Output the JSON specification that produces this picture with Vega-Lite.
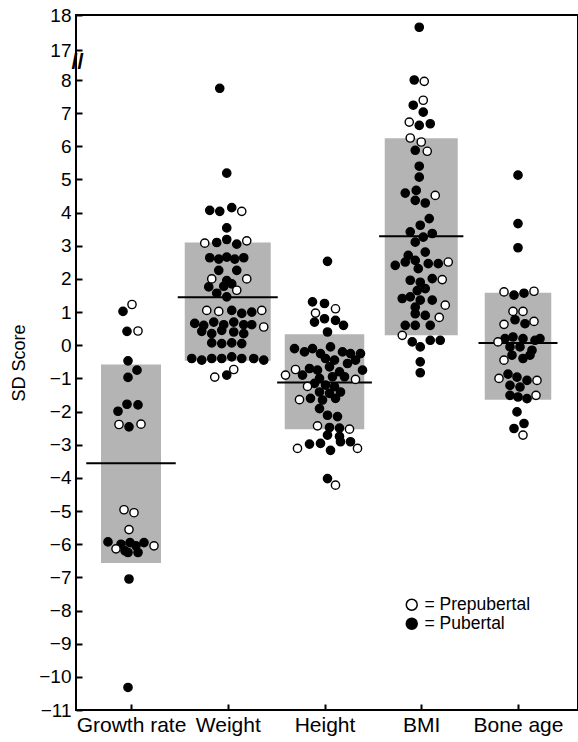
{
  "$schema": "https://vega.github.io/schema/vega-lite/v6.json",
  "width": 502,
  "height": 695,
  "autosize": {"type": "none"},
  "padding": {"top": 15, "left": 76, "right": 0, "bottom": 32},
  "config": {
    "view": {"stroke": "black", "strokeWidth": 2},
    "font": "Liberation Sans",
    "axis": {"grid": false, "labelColor": "black", "titleColor": "black", "domainColor": "black", "labelFont": "Liberation Sans", "titleFont": "Liberation Sans", "ticks": true, "tickOpacity": 1, "zindex": 1}
  },
  "datasets": {
    "boxes": [
      {"cat": "Growth rate", "value": -0.58, "value2": -6.57},
      {"cat": "Weight", "value": 3.1, "value2": -0.47},
      {"cat": "Height", "value": 0.33, "value2": -2.53},
      {"cat": "BMI", "value": 6.24, "value2": 0.3},
      {"cat": "Bone age", "value": 1.58, "value2": -1.64}
    ],
    "means": [
      {"cat": "Growth rate", "value": -3.56},
      {"cat": "Weight", "value": 1.45},
      {"cat": "Height", "value": -1.12},
      {"cat": "BMI", "value": 3.29},
      {"cat": "Bone age", "value": 0.07}
    ],
    "points": [
      {"cat": "Growth rate", "value": 1.02, "status": "Pubertal", "jitter": -0.8},
      {"cat": "Growth rate", "value": 1.23, "status": "Prepubertal", "jitter": 0.1},
      {"cat": "Growth rate", "value": 0.42, "status": "Pubertal", "jitter": -0.4},
      {"cat": "Growth rate", "value": 0.43, "status": "Prepubertal", "jitter": 0.7},
      {"cat": "Growth rate", "value": -0.47, "status": "Pubertal", "jitter": -0.3},
      {"cat": "Growth rate", "value": -0.75, "status": "Pubertal", "jitter": 0.6},
      {"cat": "Growth rate", "value": -0.97, "status": "Pubertal", "jitter": -0.3},
      {"cat": "Growth rate", "value": -1.78, "status": "Pubertal", "jitter": -0.4},
      {"cat": "Growth rate", "value": -1.8, "status": "Pubertal", "jitter": 0.7},
      {"cat": "Growth rate", "value": -1.99, "status": "Pubertal", "jitter": -1.3},
      {"cat": "Growth rate", "value": -2.39, "status": "Prepubertal", "jitter": -1.2},
      {"cat": "Growth rate", "value": -2.46, "status": "Pubertal", "jitter": -0.2},
      {"cat": "Growth rate", "value": -2.38, "status": "Prepubertal", "jitter": 1.0},
      {"cat": "Growth rate", "value": -4.96, "status": "Prepubertal", "jitter": -0.7},
      {"cat": "Growth rate", "value": -5.05, "status": "Prepubertal", "jitter": 0.3},
      {"cat": "Growth rate", "value": -5.56, "status": "Prepubertal", "jitter": -0.2},
      {"cat": "Growth rate", "value": -5.93, "status": "Pubertal", "jitter": -2.3},
      {"cat": "Growth rate", "value": -6.14, "status": "Prepubertal", "jitter": -1.5},
      {"cat": "Growth rate", "value": -6.0, "status": "Pubertal", "jitter": -1.0},
      {"cat": "Growth rate", "value": -6.2, "status": "Pubertal", "jitter": -0.6},
      {"cat": "Growth rate", "value": -5.95, "status": "Pubertal", "jitter": -0.1},
      {"cat": "Growth rate", "value": -6.25, "status": "Pubertal", "jitter": -0.3},
      {"cat": "Growth rate", "value": -6.05, "status": "Pubertal", "jitter": 0.5},
      {"cat": "Growth rate", "value": -6.25, "status": "Pubertal", "jitter": 0.7},
      {"cat": "Growth rate", "value": -5.95, "status": "Pubertal", "jitter": 1.3},
      {"cat": "Growth rate", "value": -6.05, "status": "Prepubertal", "jitter": 2.3},
      {"cat": "Growth rate", "value": -7.05, "status": "Pubertal", "jitter": -0.2},
      {"cat": "Growth rate", "value": -10.32, "status": "Pubertal", "jitter": -0.3},

      {"cat": "Weight", "value": 7.75, "status": "Pubertal", "jitter": -0.8},
      {"cat": "Weight", "value": 5.19, "status": "Pubertal", "jitter": -0.1},
      {"cat": "Weight", "value": 4.07, "status": "Pubertal", "jitter": -1.8},
      {"cat": "Weight", "value": 4.04, "status": "Pubertal", "jitter": -0.8},
      {"cat": "Weight", "value": 4.15, "status": "Pubertal", "jitter": 0.4},
      {"cat": "Weight", "value": 4.04, "status": "Prepubertal", "jitter": 1.4},
      {"cat": "Weight", "value": 3.54, "status": "Pubertal", "jitter": -0.1},
      {"cat": "Weight", "value": 3.08, "status": "Prepubertal", "jitter": -2.3},
      {"cat": "Weight", "value": 3.1, "status": "Pubertal", "jitter": -1.1},
      {"cat": "Weight", "value": 3.19, "status": "Pubertal", "jitter": -0.1},
      {"cat": "Weight", "value": 3.05, "status": "Pubertal", "jitter": 0.9},
      {"cat": "Weight", "value": 3.15, "status": "Prepubertal", "jitter": 1.9},
      {"cat": "Weight", "value": 2.64, "status": "Pubertal", "jitter": -1.8},
      {"cat": "Weight", "value": 2.6, "status": "Pubertal", "jitter": -0.9},
      {"cat": "Weight", "value": 2.66, "status": "Pubertal", "jitter": -0.1},
      {"cat": "Weight", "value": 2.6, "status": "Pubertal", "jitter": 0.7},
      {"cat": "Weight", "value": 2.64, "status": "Pubertal", "jitter": 1.6},
      {"cat": "Weight", "value": 2.26, "status": "Pubertal", "jitter": -0.9},
      {"cat": "Weight", "value": 2.26, "status": "Pubertal", "jitter": 0.9},
      {"cat": "Weight", "value": 2.0, "status": "Prepubertal", "jitter": -1.6},
      {"cat": "Weight", "value": 1.95, "status": "Pubertal", "jitter": -0.1},
      {"cat": "Weight", "value": 2.0, "status": "Prepubertal", "jitter": 1.9},
      {"cat": "Weight", "value": 1.76, "status": "Pubertal", "jitter": -1.9},
      {"cat": "Weight", "value": 1.78, "status": "Pubertal", "jitter": -0.4},
      {"cat": "Weight", "value": 1.85, "status": "Pubertal", "jitter": 0.4},
      {"cat": "Weight", "value": 1.66, "status": "Prepubertal", "jitter": 0.9},
      {"cat": "Weight", "value": 1.57, "status": "Pubertal", "jitter": -1.1},
      {"cat": "Weight", "value": 1.46, "status": "Pubertal", "jitter": -0.1},
      {"cat": "Weight", "value": 1.05, "status": "Prepubertal", "jitter": -2.1},
      {"cat": "Weight", "value": 1.02, "status": "Prepubertal", "jitter": -0.9},
      {"cat": "Weight", "value": 1.05, "status": "Pubertal", "jitter": 0.4},
      {"cat": "Weight", "value": 0.96, "status": "Pubertal", "jitter": 1.4},
      {"cat": "Weight", "value": 1.0, "status": "Pubertal", "jitter": 2.4},
      {"cat": "Weight", "value": 1.05, "status": "Prepubertal", "jitter": 3.4},
      {"cat": "Weight", "value": 0.66, "status": "Pubertal", "jitter": -3.3},
      {"cat": "Weight", "value": 0.6, "status": "Pubertal", "jitter": -2.4},
      {"cat": "Weight", "value": 0.7, "status": "Pubertal", "jitter": -1.4},
      {"cat": "Weight", "value": 0.62, "status": "Pubertal", "jitter": -0.4},
      {"cat": "Weight", "value": 0.7, "status": "Pubertal", "jitter": 0.6},
      {"cat": "Weight", "value": 0.62, "status": "Pubertal", "jitter": 1.6},
      {"cat": "Weight", "value": 0.62, "status": "Pubertal", "jitter": 2.4},
      {"cat": "Weight", "value": 0.55, "status": "Prepubertal", "jitter": 3.6},
      {"cat": "Weight", "value": 0.42, "status": "Pubertal", "jitter": -2.6},
      {"cat": "Weight", "value": 0.35, "status": "Pubertal", "jitter": -1.6},
      {"cat": "Weight", "value": 0.45, "status": "Pubertal", "jitter": -0.6},
      {"cat": "Weight", "value": 0.4, "status": "Pubertal", "jitter": 0.6},
      {"cat": "Weight", "value": 0.35, "status": "Pubertal", "jitter": 1.6},
      {"cat": "Weight", "value": 0.07, "status": "Pubertal", "jitter": -1.6},
      {"cat": "Weight", "value": 0.05, "status": "Pubertal", "jitter": -0.6},
      {"cat": "Weight", "value": 0.07, "status": "Pubertal", "jitter": 0.4},
      {"cat": "Weight", "value": 0.05, "status": "Pubertal", "jitter": 1.4},
      {"cat": "Weight", "value": -0.4, "status": "Pubertal", "jitter": -3.6},
      {"cat": "Weight", "value": -0.45, "status": "Pubertal", "jitter": -2.6},
      {"cat": "Weight", "value": -0.4, "status": "Pubertal", "jitter": -1.6},
      {"cat": "Weight", "value": -0.4, "status": "Pubertal", "jitter": -0.6},
      {"cat": "Weight", "value": -0.35, "status": "Pubertal", "jitter": 0.4},
      {"cat": "Weight", "value": -0.4, "status": "Pubertal", "jitter": 1.4},
      {"cat": "Weight", "value": -0.4, "status": "Pubertal", "jitter": 2.6},
      {"cat": "Weight", "value": -0.45, "status": "Pubertal", "jitter": 3.6},
      {"cat": "Weight", "value": -0.73, "status": "Prepubertal", "jitter": 0.6},
      {"cat": "Weight", "value": -0.9, "status": "Pubertal", "jitter": -0.1},
      {"cat": "Weight", "value": -0.96, "status": "Prepubertal", "jitter": -1.3},

      {"cat": "Height", "value": 2.53, "status": "Pubertal", "jitter": 0.3},
      {"cat": "Height", "value": 1.31, "status": "Pubertal", "jitter": -1.2},
      {"cat": "Height", "value": 1.26, "status": "Pubertal", "jitter": 0.0},
      {"cat": "Height", "value": 1.1, "status": "Prepubertal", "jitter": 1.1},
      {"cat": "Height", "value": 0.97, "status": "Prepubertal", "jitter": -0.9},
      {"cat": "Height", "value": 0.7, "status": "Pubertal", "jitter": -1.0},
      {"cat": "Height", "value": 0.8, "status": "Pubertal", "jitter": 0.0},
      {"cat": "Height", "value": 0.75, "status": "Pubertal", "jitter": 1.1},
      {"cat": "Height", "value": 0.6, "status": "Pubertal", "jitter": 1.9},
      {"cat": "Height", "value": 0.4, "status": "Pubertal", "jitter": 0.3},
      {"cat": "Height", "value": -0.1, "status": "Pubertal", "jitter": -3.0},
      {"cat": "Height", "value": -0.2, "status": "Pubertal", "jitter": -2.0},
      {"cat": "Height", "value": -0.1, "status": "Pubertal", "jitter": -1.2},
      {"cat": "Height", "value": -0.25, "status": "Pubertal", "jitter": -0.4},
      {"cat": "Height", "value": -0.05, "status": "Pubertal", "jitter": 0.6},
      {"cat": "Height", "value": -0.2, "status": "Pubertal", "jitter": 1.8},
      {"cat": "Height", "value": -0.25, "status": "Pubertal", "jitter": 2.6},
      {"cat": "Height", "value": -0.25, "status": "Pubertal", "jitter": 3.6},
      {"cat": "Height", "value": -0.4, "status": "Pubertal", "jitter": 0.1},
      {"cat": "Height", "value": -0.45, "status": "Pubertal", "jitter": 1.0},
      {"cat": "Height", "value": -0.45, "status": "Pubertal", "jitter": 3.1},
      {"cat": "Height", "value": -0.55, "status": "Pubertal", "jitter": 2.3},
      {"cat": "Height", "value": -0.75, "status": "Pubertal", "jitter": 3.8},
      {"cat": "Height", "value": -0.7, "status": "Pubertal", "jitter": -1.5},
      {"cat": "Height", "value": -0.75, "status": "Pubertal", "jitter": -0.7},
      {"cat": "Height", "value": -0.65, "status": "Pubertal", "jitter": 0.5},
      {"cat": "Height", "value": -0.8, "status": "Pubertal", "jitter": 1.5},
      {"cat": "Height", "value": -0.9, "status": "Prepubertal", "jitter": -3.9},
      {"cat": "Height", "value": -0.73, "status": "Prepubertal", "jitter": -2.9},
      {"cat": "Height", "value": -0.9, "status": "Pubertal", "jitter": -2.2},
      {"cat": "Height", "value": -1.03, "status": "Prepubertal", "jitter": 3.1},
      {"cat": "Height", "value": -1.0, "status": "Pubertal", "jitter": -0.5},
      {"cat": "Height", "value": -0.95, "status": "Pubertal", "jitter": 0.8},
      {"cat": "Height", "value": -0.95, "status": "Pubertal", "jitter": 2.0},
      {"cat": "Height", "value": -1.15, "status": "Pubertal", "jitter": -1.0},
      {"cat": "Height", "value": -1.24, "status": "Prepubertal", "jitter": -1.7},
      {"cat": "Height", "value": -1.2, "status": "Pubertal", "jitter": 0.1},
      {"cat": "Height", "value": -1.25, "status": "Pubertal", "jitter": 1.0},
      {"cat": "Height", "value": -1.41, "status": "Pubertal", "jitter": -0.5},
      {"cat": "Height", "value": -1.45, "status": "Pubertal", "jitter": 0.5},
      {"cat": "Height", "value": -1.41, "status": "Pubertal", "jitter": 1.6},
      {"cat": "Height", "value": -1.64, "status": "Prepubertal", "jitter": -2.5},
      {"cat": "Height", "value": -1.6, "status": "Pubertal", "jitter": -1.4},
      {"cat": "Height", "value": -1.65, "status": "Pubertal", "jitter": -0.2},
      {"cat": "Height", "value": -1.6, "status": "Pubertal", "jitter": 1.1},
      {"cat": "Height", "value": -1.91, "status": "Pubertal", "jitter": -0.5},
      {"cat": "Height", "value": -2.11, "status": "Pubertal", "jitter": 0.3},
      {"cat": "Height", "value": -2.15, "status": "Pubertal", "jitter": 1.3},
      {"cat": "Height", "value": -2.43, "status": "Prepubertal", "jitter": -0.7},
      {"cat": "Height", "value": -2.48, "status": "Pubertal", "jitter": 0.5},
      {"cat": "Height", "value": -2.5, "status": "Pubertal", "jitter": 1.5},
      {"cat": "Height", "value": -2.53, "status": "Prepubertal", "jitter": 2.5},
      {"cat": "Height", "value": -2.71, "status": "Pubertal", "jitter": 0.3},
      {"cat": "Height", "value": -2.75, "status": "Pubertal", "jitter": 1.5},
      {"cat": "Height", "value": -3.11, "status": "Prepubertal", "jitter": -2.7},
      {"cat": "Height", "value": -2.98, "status": "Pubertal", "jitter": -1.5},
      {"cat": "Height", "value": -2.96, "status": "Pubertal", "jitter": -0.4},
      {"cat": "Height", "value": -3.17, "status": "Pubertal", "jitter": 0.6},
      {"cat": "Height", "value": -2.91, "status": "Pubertal", "jitter": 1.6},
      {"cat": "Height", "value": -2.91, "status": "Pubertal", "jitter": 2.6},
      {"cat": "Height", "value": -3.11, "status": "Prepubertal", "jitter": 3.3},
      {"cat": "Height", "value": -4.02, "status": "Pubertal", "jitter": 0.3},
      {"cat": "Height", "value": -4.22, "status": "Prepubertal", "jitter": 1.1},

      {"cat": "BMI", "value": 17.65, "status": "Pubertal", "jitter": -0.2},
      {"cat": "BMI", "value": 8.01, "status": "Pubertal", "jitter": -0.7},
      {"cat": "BMI", "value": 7.96, "status": "Prepubertal", "jitter": 0.3},
      {"cat": "BMI", "value": 7.39, "status": "Prepubertal", "jitter": 0.2},
      {"cat": "BMI", "value": 7.24, "status": "Pubertal", "jitter": -0.8},
      {"cat": "BMI", "value": 7.03, "status": "Pubertal", "jitter": 0.2},
      {"cat": "BMI", "value": 6.73, "status": "Prepubertal", "jitter": -1.2},
      {"cat": "BMI", "value": 6.63, "status": "Pubertal", "jitter": -0.2},
      {"cat": "BMI", "value": 6.68, "status": "Pubertal", "jitter": 0.9},
      {"cat": "BMI", "value": 6.25, "status": "Prepubertal", "jitter": -1.1},
      {"cat": "BMI", "value": 6.13, "status": "Prepubertal", "jitter": 0.0},
      {"cat": "BMI", "value": 5.88, "status": "Pubertal", "jitter": -0.6},
      {"cat": "BMI", "value": 5.85, "status": "Prepubertal", "jitter": 0.6},
      {"cat": "BMI", "value": 5.4, "status": "Pubertal", "jitter": -0.2},
      {"cat": "BMI", "value": 5.07, "status": "Pubertal", "jitter": -0.2},
      {"cat": "BMI", "value": 4.59, "status": "Pubertal", "jitter": -1.6},
      {"cat": "BMI", "value": 4.67, "status": "Pubertal", "jitter": -0.5},
      {"cat": "BMI", "value": 4.37, "status": "Pubertal", "jitter": -0.6},
      {"cat": "BMI", "value": 4.29, "status": "Pubertal", "jitter": 0.4},
      {"cat": "BMI", "value": 4.52, "status": "Prepubertal", "jitter": 1.4},
      {"cat": "BMI", "value": 3.82, "status": "Pubertal", "jitter": 0.8},
      {"cat": "BMI", "value": 3.62, "status": "Pubertal", "jitter": -0.1},
      {"cat": "BMI", "value": 3.42, "status": "Pubertal", "jitter": -1.1},
      {"cat": "BMI", "value": 3.37, "status": "Pubertal", "jitter": 1.1},
      {"cat": "BMI", "value": 3.11, "status": "Pubertal", "jitter": -0.6},
      {"cat": "BMI", "value": 3.26, "status": "Pubertal", "jitter": 0.2},
      {"cat": "BMI", "value": 2.71, "status": "Pubertal", "jitter": -1.3},
      {"cat": "BMI", "value": 2.81, "status": "Pubertal", "jitter": 0.4},
      {"cat": "BMI", "value": 2.41, "status": "Pubertal", "jitter": -2.6},
      {"cat": "BMI", "value": 2.51, "status": "Pubertal", "jitter": -1.6},
      {"cat": "BMI", "value": 2.56, "status": "Pubertal", "jitter": -0.6},
      {"cat": "BMI", "value": 2.31, "status": "Pubertal", "jitter": -0.3},
      {"cat": "BMI", "value": 2.46, "status": "Pubertal", "jitter": 0.7},
      {"cat": "BMI", "value": 2.46, "status": "Pubertal", "jitter": 1.7},
      {"cat": "BMI", "value": 2.51, "status": "Prepubertal", "jitter": 2.7},
      {"cat": "BMI", "value": 1.96, "status": "Pubertal", "jitter": -1.1},
      {"cat": "BMI", "value": 1.9, "status": "Pubertal", "jitter": -0.1},
      {"cat": "BMI", "value": 2.01, "status": "Pubertal", "jitter": 1.1},
      {"cat": "BMI", "value": 1.98, "status": "Prepubertal", "jitter": 2.1},
      {"cat": "BMI", "value": 1.71, "status": "Pubertal", "jitter": 0.4},
      {"cat": "BMI", "value": 1.65, "status": "Pubertal", "jitter": -0.4},
      {"cat": "BMI", "value": 1.41, "status": "Pubertal", "jitter": -1.9},
      {"cat": "BMI", "value": 1.46, "status": "Pubertal", "jitter": -1.1},
      {"cat": "BMI", "value": 1.36, "status": "Pubertal", "jitter": -0.1},
      {"cat": "BMI", "value": 1.36, "status": "Pubertal", "jitter": 1.1},
      {"cat": "BMI", "value": 1.21, "status": "Prepubertal", "jitter": 2.4},
      {"cat": "BMI", "value": 1.15, "status": "Pubertal", "jitter": -0.6},
      {"cat": "BMI", "value": 0.9, "status": "Pubertal", "jitter": 0.4},
      {"cat": "BMI", "value": 0.84, "status": "Prepubertal", "jitter": 1.8},
      {"cat": "BMI", "value": 0.95, "status": "Pubertal", "jitter": -0.6},
      {"cat": "BMI", "value": 0.6, "status": "Pubertal", "jitter": -1.6},
      {"cat": "BMI", "value": 0.6, "status": "Pubertal", "jitter": -0.6},
      {"cat": "BMI", "value": 0.6, "status": "Pubertal", "jitter": 0.9},
      {"cat": "BMI", "value": 0.3, "status": "Prepubertal", "jitter": -1.9},
      {"cat": "BMI", "value": 0.1, "status": "Pubertal", "jitter": -0.9},
      {"cat": "BMI", "value": -0.05, "status": "Pubertal", "jitter": -0.1},
      {"cat": "BMI", "value": 0.15, "status": "Pubertal", "jitter": 0.9},
      {"cat": "BMI", "value": 0.15, "status": "Pubertal", "jitter": 1.9},
      {"cat": "BMI", "value": -0.5, "status": "Pubertal", "jitter": -0.1},
      {"cat": "BMI", "value": -0.83, "status": "Pubertal", "jitter": -0.1},

      {"cat": "Bone age", "value": 5.13, "status": "Pubertal", "jitter": 0.0},
      {"cat": "Bone age", "value": 3.67, "status": "Pubertal", "jitter": 0.0},
      {"cat": "Bone age", "value": 2.94, "status": "Pubertal", "jitter": 0.0},
      {"cat": "Bone age", "value": 1.61, "status": "Prepubertal", "jitter": -1.4},
      {"cat": "Bone age", "value": 1.51, "status": "Pubertal", "jitter": -0.4},
      {"cat": "Bone age", "value": 1.57, "status": "Pubertal", "jitter": 0.6},
      {"cat": "Bone age", "value": 1.63, "status": "Prepubertal", "jitter": 1.6},
      {"cat": "Bone age", "value": 1.02, "status": "Prepubertal", "jitter": -0.5},
      {"cat": "Bone age", "value": 1.02, "status": "Prepubertal", "jitter": 0.5},
      {"cat": "Bone age", "value": 0.77, "status": "Pubertal", "jitter": -0.3},
      {"cat": "Bone age", "value": 0.65, "status": "Pubertal", "jitter": 0.7},
      {"cat": "Bone age", "value": 0.63, "status": "Prepubertal", "jitter": -1.4},
      {"cat": "Bone age", "value": 0.72, "status": "Prepubertal", "jitter": 1.6},
      {"cat": "Bone age", "value": 0.2, "status": "Pubertal", "jitter": -1.3},
      {"cat": "Bone age", "value": 0.25, "status": "Pubertal", "jitter": -0.5},
      {"cat": "Bone age", "value": 0.2, "status": "Pubertal", "jitter": 0.5},
      {"cat": "Bone age", "value": 0.15, "status": "Pubertal", "jitter": 1.7},
      {"cat": "Bone age", "value": 0.2, "status": "Pubertal", "jitter": 2.2},
      {"cat": "Bone age", "value": 0.1, "status": "Prepubertal", "jitter": -2.0},
      {"cat": "Bone age", "value": -0.05, "status": "Pubertal", "jitter": -0.8},
      {"cat": "Bone age", "value": -0.05, "status": "Pubertal", "jitter": 0.2},
      {"cat": "Bone age", "value": -0.15, "status": "Pubertal", "jitter": 1.4},
      {"cat": "Bone age", "value": -0.3, "status": "Pubertal", "jitter": -0.6},
      {"cat": "Bone age", "value": -0.4, "status": "Pubertal", "jitter": 0.5},
      {"cat": "Bone age", "value": -0.3, "status": "Pubertal", "jitter": 1.2},
      {"cat": "Bone age", "value": -0.45, "status": "Prepubertal", "jitter": -1.4},
      {"cat": "Bone age", "value": -1.0, "status": "Prepubertal", "jitter": -1.9},
      {"cat": "Bone age", "value": -0.87, "status": "Pubertal", "jitter": -1.0},
      {"cat": "Bone age", "value": -0.96, "status": "Pubertal", "jitter": -0.1},
      {"cat": "Bone age", "value": -1.06, "status": "Pubertal", "jitter": 0.9},
      {"cat": "Bone age", "value": -1.06, "status": "Prepubertal", "jitter": 1.9},
      {"cat": "Bone age", "value": -1.21, "status": "Pubertal", "jitter": -0.8},
      {"cat": "Bone age", "value": -1.26, "status": "Pubertal", "jitter": 0.2},
      {"cat": "Bone age", "value": -1.51, "status": "Pubertal", "jitter": -0.8},
      {"cat": "Bone age", "value": -1.56, "status": "Pubertal", "jitter": 0.0},
      {"cat": "Bone age", "value": -1.61, "status": "Pubertal", "jitter": 0.9},
      {"cat": "Bone age", "value": -1.51, "status": "Prepubertal", "jitter": 1.8},
      {"cat": "Bone age", "value": -2.01, "status": "Pubertal", "jitter": -0.1},
      {"cat": "Bone age", "value": -2.36, "status": "Pubertal", "jitter": 0.6},
      {"cat": "Bone age", "value": -2.51, "status": "Pubertal", "jitter": -0.4},
      {"cat": "Bone age", "value": -2.71, "status": "Prepubertal", "jitter": 0.5}
    ]
  },
  "encoding": {
    "x": {
      "field": "cat", "type": "nominal",
      "scale": {"type": "point", "domain": ["Growth rate", "Weight", "Height", "BMI", "Bone age"], "range": [55, 442], "padding": 0},
      "axis": {"title": null, "labelAngle": 0, "labelFontSize": 21, "offset": -6, "tickSize": 6, "tickWidth": 2, "tickColor": "#000000", "labelPadding": 4, "domain": false, "ticks": true}
    },
    "y": {
      "field": "value", "type": "quantitative",
      "scale": {"domain": [-11, 8, 17, 18], "range": [695, 65, 35, 0], "nice": false, "zero": false},
      "axis": {
        "title": "SD Score", "titleFontSize": 18, "titleFontWeight": "normal", "titlePadding": 10,
        "values": [-11, -10, -9, -8, -7, -6, -5, -4, -3, -2, -1, 0, 1, 2, 3, 4, 5, 6, 7, 8, 13.7, 17, 18],
        "labelExpr": "datum.value == 13.7 ? '//' : datum.label",
        "labelOverlap": false,
        "labelFontSize": {"condition": {"test": "datum.value == 13.7", "value": 22}, "value": 19},
        "labelFontWeight": {"condition": {"test": "datum.value == 13.7", "value": "bold"}, "value": "normal"},
        "labelAlign": {"condition": {"test": "datum.value == 13.7", "value": "center"}, "value": "right"},
        "labelPadding": {"condition": {"test": "datum.value == 13.7", "value": -1}, "value": 5},
        "tickColor": {"condition": {"test": "datum.value == 13.7", "value": "transparent"}, "value": "#000000"},
        "offset": -6,
        "ticks": true, "tickSize": 6, "tickWidth": 2,
        "domain": false
      }
    }
  },
  "resolve": {"scale": {"size": "independent"}},
  "layer": [
    {
      "data": {"name": "boxes"},
      "mark": {"type": "bar", "color": "#b4b4b4"},
      "encoding": {
        "y2": {"field": "value2"},
        "size": {"field": "cat", "type": "ordinal", "scale": {"type": "point", "domain": ["Growth rate", "Bone age", "BMI", "Height", "Weight"], "range": [60, 86], "padding": 0}, "legend": null}
      }
    },
    {
      "data": {"name": "means"},
      "mark": {"type": "tick", "color": "black", "thickness": 2, "opacity": 1},
      "encoding": {
        "size": {"field": "cat", "type": "ordinal", "scale": {"type": "point", "domain": ["Bone age", "BMI", "Growth rate", "Height", "Weight"], "range": [79, 100], "padding": 0}, "legend": null}
      }
    },
    {
      "data": {"name": "points"},
      "transform": [{"filter": "datum.status == 'Pubertal'"}],
      "mark": {"type": "point", "shape": "circle", "filled": true, "stroke": "black", "strokeWidth": 1.4, "size": 68, "opacity": 1},
      "encoding": {
        "xOffset": {"field": "jitter", "type": "quantitative", "scale": {"domain": [-5, 5], "range": [-50, 50]}},
        "fill": {"field": "status", "type": "nominal", "scale": {"domain": ["Prepubertal", "Pubertal"], "range": ["white", "black"]},
          "legend": {"orient": "none", "legendX": 327, "legendY": 581, "title": null, "labelExpr": "'= ' + datum.label", "labelFontSize": 17.5, "labelFont": "Liberation Sans", "labelColor": "black", "symbolType": "circle", "symbolSize": 120, "symbolStrokeColor": "black", "symbolStrokeWidth": 1.5, "rowPadding": 0, "labelOffset": 4}}
      }
    },
    {
      "data": {"name": "points"},
      "transform": [{"filter": "datum.status == 'Prepubertal'"}],
      "mark": {"type": "point", "shape": "circle", "filled": true, "stroke": "black", "strokeWidth": 1.4, "size": 68, "opacity": 1},
      "encoding": {
        "xOffset": {"field": "jitter", "type": "quantitative", "scale": {"domain": [-5, 5], "range": [-50, 50]}},
        "fill": {"field": "status", "type": "nominal", "scale": {"domain": ["Prepubertal", "Pubertal"], "range": ["white", "black"]}}
      }
    }
  ]
}
